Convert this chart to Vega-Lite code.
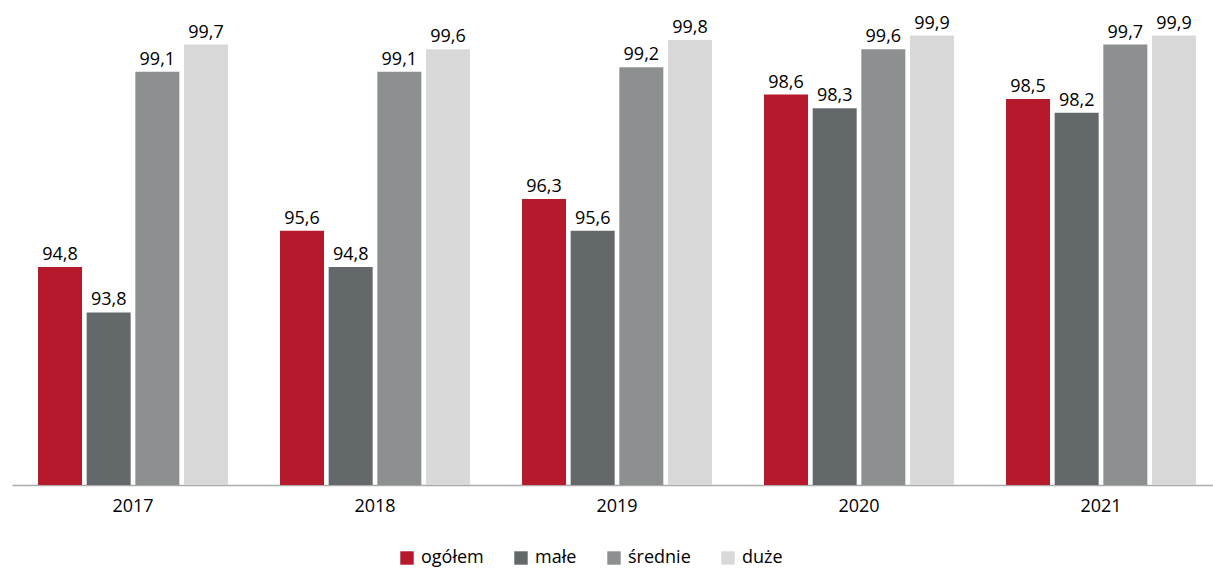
{
  "$schema": "https://vega.github.io/schema/vega-lite/v6.json",
  "width": 1210,
  "height": 454,
  "autosize": {"type": "none"},
  "padding": {"left": 12, "top": 31, "right": 0, "bottom": 83},
  "background": "white",
  "config": {
    "view": {"stroke": null},
    "font": "Open Sans",
    "locale": {"number": {"decimal": ",", "thousands": " ", "grouping": [3], "currency": ["", " zł"]}}
  },
  "data": {
    "values": [
      {"rok": "2017", "kategoria": "ogółem", "v": 94.8},
      {"rok": "2017", "kategoria": "małe", "v": 93.8},
      {"rok": "2017", "kategoria": "średnie", "v": 99.1},
      {"rok": "2017", "kategoria": "duże", "v": 99.7},
      {"rok": "2018", "kategoria": "ogółem", "v": 95.6},
      {"rok": "2018", "kategoria": "małe", "v": 94.8},
      {"rok": "2018", "kategoria": "średnie", "v": 99.1},
      {"rok": "2018", "kategoria": "duże", "v": 99.6},
      {"rok": "2019", "kategoria": "ogółem", "v": 96.3},
      {"rok": "2019", "kategoria": "małe", "v": 95.6},
      {"rok": "2019", "kategoria": "średnie", "v": 99.2},
      {"rok": "2019", "kategoria": "duże", "v": 99.8},
      {"rok": "2020", "kategoria": "ogółem", "v": 98.6},
      {"rok": "2020", "kategoria": "małe", "v": 98.3},
      {"rok": "2020", "kategoria": "średnie", "v": 99.6},
      {"rok": "2020", "kategoria": "duże", "v": 99.9},
      {"rok": "2021", "kategoria": "ogółem", "v": 98.5},
      {"rok": "2021", "kategoria": "małe", "v": 98.2},
      {"rok": "2021", "kategoria": "średnie", "v": 99.7},
      {"rok": "2021", "kategoria": "duże", "v": 99.9}
    ]
  },
  "encoding": {
    "x": {
      "field": "rok", "type": "nominal",
      "scale": {"paddingInner": 0.215, "paddingOuter": 0.1075},
      "axis": {
        "title": null, "labelAngle": 0, "ticks": false,
        "domainColor": "#ABABAB", "domainWidth": 1.5,
        "labelFont": "Open Sans", "labelFontSize": 18, "labelColor": "#000000",
        "labelPadding": 12
      }
    },
    "xOffset": {
      "field": "kategoria", "type": "nominal",
      "sort": ["ogółem", "małe", "średnie", "duże"],
      "scale": {"paddingInner": 0.096, "paddingOuter": 0}
    },
    "y": {
      "field": "v", "type": "quantitative",
      "scale": {"domain": [90, 100], "zero": false, "nice": false},
      "axis": null
    }
  },
  "layer": [
    {
      "mark": {"type": "bar"},
      "encoding": {
        "y2": {"datum": 90},
        "color": {
          "field": "kategoria", "type": "nominal",
          "scale": {
            "domain": ["ogółem", "małe", "średnie", "duże"],
            "range": ["#B5192B", "#63686A", "#8C9090", "#D9D9D9"]
          },
          "legend": {
            "title": null, "orient": "none", "direction": "horizontal",
            "legendX": 386, "legendY": 518,
            "symbolType": "square", "symbolSize": 180, "symbolStrokeWidth": 0,
            "labelFont": "Open Sans", "labelFontSize": 18, "labelColor": "#000000",
            "labelOffset": 5, "columnPadding": 28
          }
        }
      }
    },
    {
      "mark": {"type": "text", "baseline": "alphabetic", "dy": -7, "fontSize": 18, "font": "Open Sans", "color": "#000000"},
      "encoding": {
        "text": {"field": "v", "type": "quantitative", "format": ".1f"}
      }
    }
  ]
}
